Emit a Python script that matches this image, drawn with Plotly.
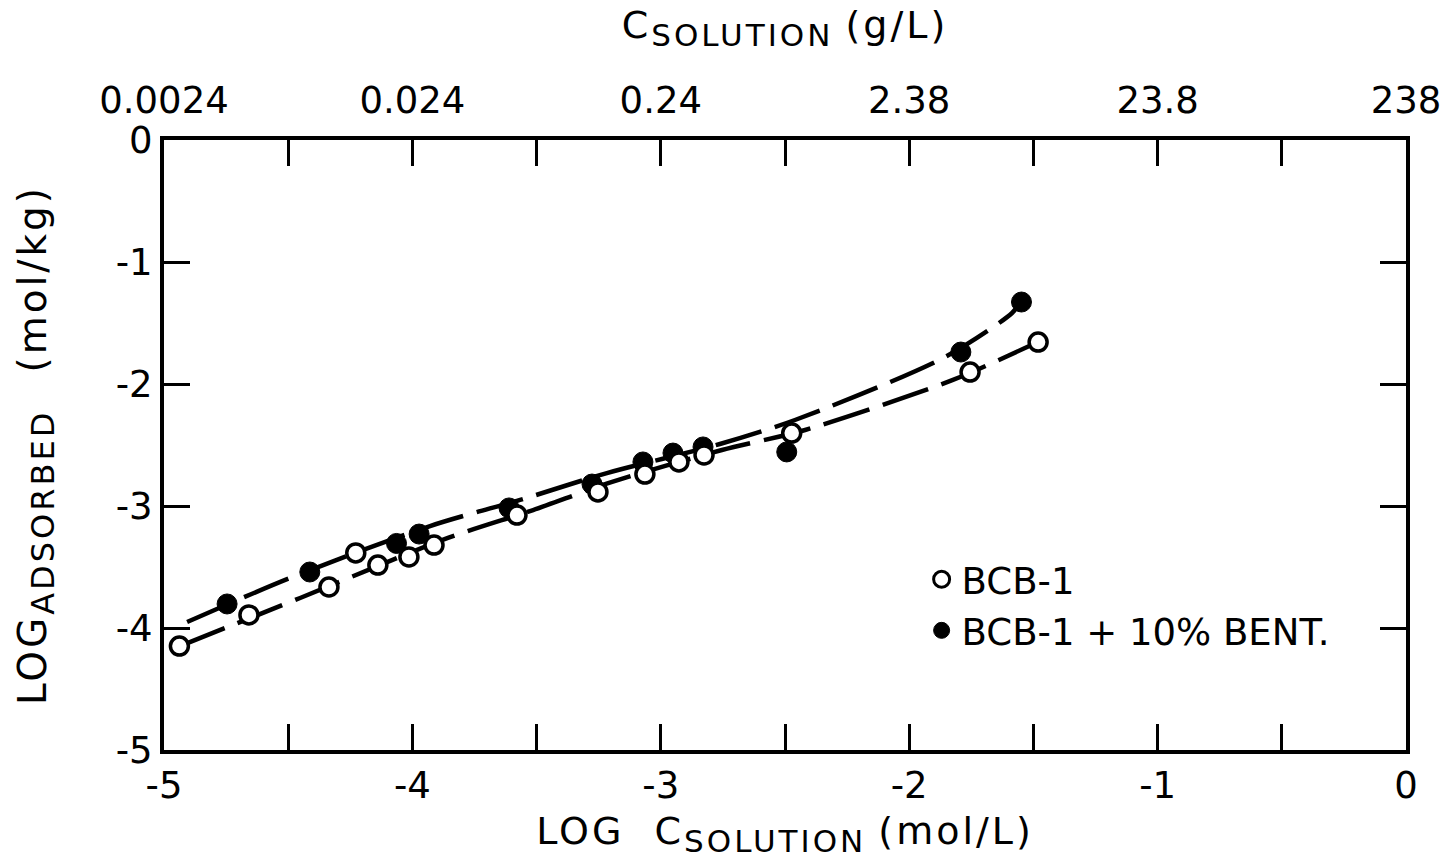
import plotly.graph_objects as go

# ---- data ----
# BCB-1 (open circles)
open_x = [-4.938, -4.658, -4.336, -4.228, -4.139, -4.014, -3.913, -3.579, -3.253,
          -3.064, -2.927, -2.826, -2.473, -1.755, -1.481]
open_y = [-4.148, -3.893, -3.664, -3.385, -3.484, -3.418, -3.320, -3.074, -2.885,
          -2.738, -2.639, -2.582, -2.402, -1.902, -1.656]
# BCB-1 + 10% BENT. (filled circles)
fill_x = [-4.746, -4.413, -4.064, -3.973, -3.611, -3.277, -3.072, -2.951, -2.830,
          -2.493, -1.792, -1.548]
fill_y = [-3.803, -3.541, -3.307, -3.230, -3.016, -2.820, -2.639, -2.566, -2.516,
          -2.557, -1.738, -1.328]
# fitted curves (vertices)
open_curve_x = [-4.936, -4.452, -3.857, -3.514, -3.196, -2.754, -2.419, -1.824, -1.534, -1.481]
open_curve_y = [-4.148, -3.754, -3.262, -3.033, -2.803, -2.541, -2.377, -1.967, -1.705, -1.656]
fill_curve_x = [-4.907, -4.493, -3.929, -3.555, -3.217, -2.762, -2.460, -1.856, -1.586, -1.551]
fill_curve_y = [-3.951, -3.590, -3.164, -2.943, -2.730, -2.492, -2.295, -1.779, -1.418, -1.328]

# ticks
x_tickvals = [-5, -4.5, -4, -3.5, -3, -2.5, -2, -1.5, -1, -0.5, 0]
x_ticktext = ["-5", "", "-4", "", "-3", "", "-2", "", "-1", "", "0"]
top_ticktext = ["0.0024", "", "0.024", "", "0.24", "", "2.38", "", "23.8", "", "238"]
y_tickvals = [0, -1, -2, -3, -4, -5]
y_ticktext = ["0", "-1", "-2", "-3", "-4", "-5"]

FONT = "DejaVu Sans"
BLACK = "black"


def spaced(text, size=None, ls=3):
    style = "letter-spacing:%dpx" % ls
    if size:
        style += ";font-size:%dpx" % size
    return '<span style="%s">%s</span>' % (style, text)


fig = go.Figure()

line_style = dict(color=BLACK, width=4.5, dash="48px,14px", shape="spline", smoothing=0.8)

fig.add_trace(go.Scatter(x=open_curve_x, y=open_curve_y, mode="lines",
                         line=line_style, showlegend=False, hoverinfo="skip"))
fig.add_trace(go.Scatter(x=fill_curve_x, y=fill_curve_y, mode="lines",
                         line=line_style, showlegend=False, hoverinfo="skip"))

fig.add_trace(go.Scatter(x=fill_x, y=fill_y, mode="markers", name="BCB-1 + 10% BENT.",
                         marker=dict(symbol="circle", size=20, color=BLACK,
                                     line=dict(color=BLACK, width=1)),
                         showlegend=False))
fig.add_trace(go.Scatter(x=open_x, y=open_y, mode="markers", name="BCB-1",
                         marker=dict(symbol="circle", size=18, color="white",
                                     line=dict(color=BLACK, width=3.5)),
                         showlegend=False))

# legend-only entries
fig.add_trace(go.Scatter(x=[None], y=[None], mode="markers", name="BCB-1",
                         marker=dict(symbol="circle", size=16, color="white",
                                     line=dict(color=BLACK, width=3))))
fig.add_trace(go.Scatter(x=[None], y=[None], mode="markers", name="BCB-1 + 10% BENT.",
                         marker=dict(symbol="circle", size=18, color=BLACK,
                                     line=dict(color=BLACK, width=1))))

# invisible trace to activate the top axis
fig.add_trace(go.Scatter(x=open_x, y=open_y, xaxis="x2", mode="markers",
                         marker=dict(opacity=0), showlegend=False, hoverinfo="skip"))

axis_common = dict(showgrid=False, zeroline=False, showline=True, linecolor=BLACK,
                   linewidth=4, ticks="inside", ticklen=26, tickwidth=3, tickcolor=BLACK,
                   ticklabeloverflow="allow", automargin=False,
                   tickfont=dict(family=FONT, size=37, color=BLACK))

fig.update_layout(
    width=1440, height=861,
    margin=dict(l=164, r=34, t=140, b=111),
    paper_bgcolor="white", plot_bgcolor="white",
    font=dict(family=FONT, color=BLACK),
    xaxis=dict(range=[-5, 0], tickmode="array", tickvals=x_tickvals, ticktext=x_ticktext,
               title=dict(text=spaced("LOG  C") + "<sub>" + spaced("SOLUTION", 31) + "</sub> "
                          + spaced("(mol/L)"),
                          font=dict(family=FONT, size=38, color=BLACK), standoff=12),
               **axis_common),
    xaxis2=dict(range=[-5, 0], overlaying="x", side="top", matches="x",
                tickmode="array", tickvals=x_tickvals, ticktext=top_ticktext,
                ticklabelstandoff=8,
                title=dict(text=spaced("C") + "<sub>" + spaced("SOLUTION", 31) + "</sub> "
                           + spaced("(g/L)"),
                           font=dict(family=FONT, size=38, color=BLACK), standoff=30),
                **axis_common),
    yaxis=dict(range=[-5, 0], tickmode="array", tickvals=y_tickvals, ticktext=y_ticktext,
               mirror="ticks",
               title=dict(text=spaced("LOG") + "<sub>" + spaced("ADSORBED", 32) + "</sub>   "
                          + spaced("(mol/kg)"),
                          font=dict(family=FONT, size=39, color=BLACK), standoff=58),
               **axis_common),
    legend=dict(x=0.61, y=0.33, xanchor="left", yanchor="top",
                bgcolor="rgba(0,0,0,0)", borderwidth=0,
                font=dict(family=FONT, size=37, color=BLACK),
                itemwidth=30, tracegroupgap=0),
)

fig.write_html("out.html")
